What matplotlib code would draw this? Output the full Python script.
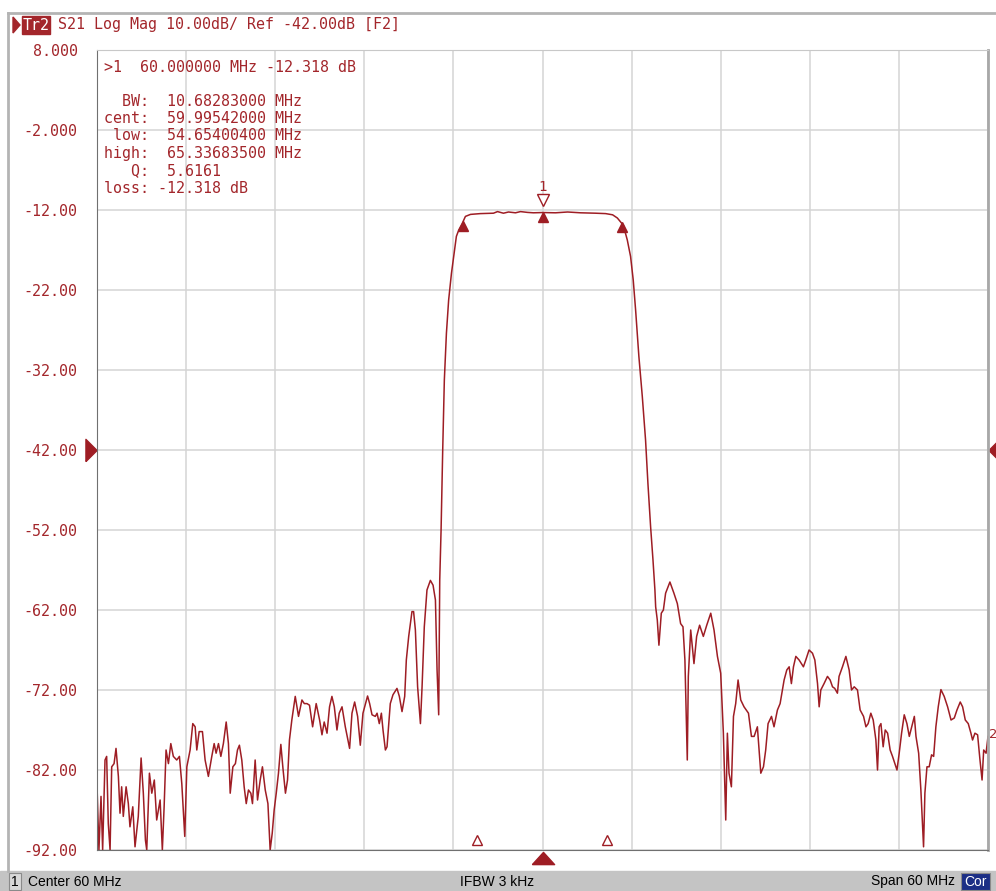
import numpy as np
import matplotlib
matplotlib.use("Agg")
import matplotlib.pyplot as plt
from matplotlib.patches import Rectangle
from matplotlib.lines import Line2D
import matplotlib.transforms as mtransforms

# S21 trace (MHz, dB)
freq = [30.00, 30.13, 30.27, 30.38, 30.54, 30.65, 30.76, 30.88, 30.99, 31.15, 31.28, 31.44, 31.55, 31.66,
        31.77, 31.96, 32.11, 32.22, 32.41, 32.56, 32.78, 32.97, 33.12, 33.26, 33.35, 33.53, 33.69, 33.86,
        34.02, 34.25, 34.40, 34.52, 34.65, 34.81, 34.97, 35.14, 35.37, 35.55, 35.71, 35.91, 36.05, 36.27,
        36.45, 36.61, 36.72, 36.88, 37.10, 37.28, 37.50, 37.73, 37.89, 38.02, 38.18, 38.34, 38.51, 38.70,
        38.85, 38.97, 39.15, 39.32, 39.46, 39.59, 39.75, 39.91, 40.05, 40.20, 40.36, 40.47, 40.65, 40.81,
        40.99, 41.14, 41.33, 41.51, 41.66, 41.80, 41.93, 42.07, 42.22, 42.38, 42.52, 42.69, 42.83, 42.96,
        43.12, 43.35, 43.57, 43.80, 43.96, 44.14, 44.31, 44.52, 44.76, 44.99, 45.15, 45.30, 45.49, 45.66,
        45.82, 45.98, 46.16, 46.31, 46.50, 46.72, 47.01, 47.17, 47.35, 47.55, 47.73, 47.91, 48.22, 48.36,
        48.52, 48.74, 48.86, 49.01, 49.15, 49.26, 49.42, 49.53, 49.75, 49.93, 50.20, 50.36, 50.54, 50.72,
        50.83, 50.99, 51.21, 51.32, 51.44, 51.59, 51.78, 51.89, 52.04, 52.22, 52.45, 52.63, 52.79, 52.90,
        53.01, 53.08, 53.17, 53.28, 53.39, 53.53, 53.68, 53.87, 54.02, 54.20, 54.36, 54.59, 54.81, 55.15,
        55.82, 56.70, 56.97, 57.37, 57.71, 58.18, 58.52, 58.99, 59.39, 60.00, 60.88, 61.69, 62.56, 63.57,
        64.25, 64.72, 65.04, 65.44, 65.71, 65.93, 66.11, 66.27, 66.49, 66.72, 66.94, 67.10, 67.28, 67.44,
        67.57, 67.62, 67.73, 67.84, 68.00, 68.14, 68.29, 68.58, 68.85, 69.08, 69.30, 69.46, 69.59, 69.75,
        69.82, 69.98, 70.20, 70.38, 70.58, 70.83, 71.06, 71.33, 71.55, 71.78, 72.00, 72.18, 72.34, 72.45,
        72.56, 72.72, 72.86, 73.01, 73.17, 73.35, 73.57, 73.87, 74.07, 74.25, 74.47, 74.70, 74.88, 75.03,
        75.19, 75.42, 75.59, 75.82, 76.00, 76.27, 76.45, 76.61, 76.76, 76.90, 77.06, 77.28, 77.57, 77.73,
        77.95, 78.18, 78.34, 78.52, 78.63, 78.74, 78.96, 79.19, 79.37, 79.53, 79.68, 79.86, 79.97, 80.20,
        80.43, 80.65, 80.81, 80.99, 81.21, 81.39, 81.62, 81.78, 81.93, 82.11, 82.27, 82.45, 82.56, 82.67,
        82.79, 82.94, 83.08, 83.24, 83.41, 83.57, 83.73, 83.87, 84.02, 84.18, 84.36, 84.54, 84.70, 84.86,
        85.04, 85.15, 85.33, 85.48, 85.66, 85.75, 85.89, 86.04, 86.20, 86.34, 86.49, 86.65, 86.83, 87.05,
        87.28, 87.51, 87.73, 87.91, 88.13, 88.29, 88.47, 88.67, 88.85, 88.96, 89.12, 89.30, 89.46, 89.60,
        89.71, 89.87, 90.00]
s21 = [-83.9, -92.0, -85.3, -92.0, -80.75, -80.3, -88.7, -92.0, -81.6, -81.2, -79.3, -82.8, -87.4, -84.1,
       -87.8, -84.1, -86.2, -89.1, -86.6, -91.6, -87.8, -80.5, -84.9, -90.75, -92.0, -82.4, -84.9, -83.25,
       -88.25, -85.75, -92.0, -86.6, -79.5, -81.2, -78.7, -80.3, -80.75, -80.3, -83.7, -90.3, -81.6, -79.5,
       -76.2, -76.6, -79.5, -77.2, -77.2, -80.75, -82.8, -80.3, -78.7, -79.9, -78.7, -80.3, -78.7, -76.0,
       -78.7, -84.9, -81.6, -81.2, -79.5, -78.9, -80.75, -84.1, -86.2, -84.5, -84.9, -86.2, -80.75, -85.75,
       -83.25, -81.6, -84.5, -86.2, -92.0, -89.9, -87.0, -84.9, -82.4, -78.8, -81.75, -84.9, -83.25, -78.25,
       -75.75, -72.8, -75.3, -73.25, -73.7, -73.7, -73.9, -76.6, -73.7, -75.75, -77.6, -76.0, -77.4, -74.1,
       -72.8, -74.1, -77.0, -74.9, -74.1, -76.6, -79.3, -74.9, -73.5, -75.3, -78.9, -74.9, -72.75, -73.7,
       -75.1, -75.3, -74.9, -76.2, -74.9, -77.0, -79.5, -79.1, -73.7, -72.6, -71.8, -72.8, -74.7, -72.8,
       -68.25, -65.3, -62.2, -62.2, -64.5, -71.6, -76.2, -71.6, -64.1, -59.5, -58.3, -58.9, -60.75, -69.5,
       -75.1, -58.25, -52.0, -42.0, -33.25, -27.4, -23.25, -19.9, -17.8, -15.3, -14.5, -13.7, -12.8, -12.55,
       -12.45, -12.4, -12.2, -12.4, -12.25, -12.35, -12.2, -12.3, -12.35, -12.318, -12.35, -12.25, -12.35, -12.4,
       -12.45, -12.6, -13.0, -13.9, -15.75, -17.8, -20.75, -24.5, -30.3, -35.3, -40.75, -46.2, -51.6, -55.75,
       -59.5, -61.6, -63.25, -66.4, -62.4, -62.0, -59.9, -58.5, -59.9, -61.2, -63.7, -64.1, -68.25, -80.75,
       -70.3, -64.5, -68.7, -65.3, -63.9, -65.3, -63.9, -62.4, -64.5, -67.8, -69.9, -77.4, -88.25, -77.4,
       -82.4, -84.1, -75.3, -73.7, -70.75, -73.25, -74.1, -74.9, -77.8, -77.8, -76.6, -82.4, -81.6, -79.5,
       -76.2, -75.3, -76.6, -74.5, -73.7, -70.75, -69.5, -69.1, -71.2, -69.1, -67.8, -68.25, -69.1, -68.25,
       -67.0, -67.4, -68.25, -71.2, -74.1, -72.0, -71.2, -70.3, -70.75, -71.6, -71.8, -72.4, -70.3, -69.1,
       -67.8, -69.5, -72.0, -71.6, -72.0, -74.5, -75.3, -76.6, -76.2, -74.9, -75.75, -78.25, -82.0, -76.6,
       -76.2, -79.1, -77.0, -77.4, -79.5, -80.3, -81.2, -82.0, -79.9, -77.4, -75.1, -76.2, -77.8, -76.6,
       -75.3, -77.8, -79.9, -84.5, -91.6, -84.9, -81.6, -81.6, -80.1, -80.3, -76.6, -74.1, -71.95, -72.8,
       -74.1, -75.75, -75.5, -74.5, -73.5, -74.1, -75.75, -76.2, -77.4, -78.25, -77.4, -77.6, -80.75, -83.25,
       -79.5, -79.9, -77.8]

yticks = [8, -2, -12, -22, -32, -42, -52, -62, -72, -82, -92]
xticks = [30, 36, 42, 48, 54, 60, 66, 72, 78, 84, 90]
ref_level = -42.0

# marker 1 bandwidth search
mk_freq = 60.0
bw_low = 54.654004
bw_high = 65.336835
mk_lines = [">1  60.000000 MHz -12.318 dB",
            "  BW:  10.68283000 MHz",
            "cent:  59.99542000 MHz",
            " low:  54.65400400 MHz",
            "high:  65.33683500 MHz",
            "   Q:  5.6161",
            "loss: -12.318 dB"]
stim_marks = [55.62, 64.31]

red = '#a3262b'
trace_c = '#9e1d24'
mono = 'DejaVu Sans Mono'
fs = 10.8

W, H = 996, 891
fig = plt.figure(figsize=(W / 100, H / 100), dpi=100)
fig.patch.set_facecolor('white')

def fx(x):
    return x / W

def fy(y):
    return 1 - y / H

ax = fig.add_axes([fx(97), fy(850), fx(988) - fx(97), fy(50) - fy(850)])
ax.set_xlim(30, 90)
ax.set_ylim(-92, 8)
ax.set_xticks(xticks)
ax.set_yticks(yticks)
ax.grid(True, color='#d4d4d4', lw=1.1)
ax.set_axisbelow(True)
ax.tick_params(length=0, labelbottom=False, pad=14)
ax.set_yticklabels([f"{v:.3f}" if abs(v) < 10 else f"{v:.2f}" for v in yticks],
                   family=mono, fontsize=fs, color=red)
ax.spines['top'].set_color('#c8c8c8')
ax.spines['left'].set_color('#707070')
ax.spines['bottom'].set_color('#707070')
ax.spines['right'].set_color('#a8a8a8')
ax.spines['right'].set_linewidth(2)

ax.plot(freq, s21, color=trace_c, lw=1.1)

# marker triangles sitting on the trace
down = mtransforms.ScaledTranslation(0, -4 / 100, fig.dpi_scale_trans)
up = mtransforms.ScaledTranslation(0, 13 / 100, fig.dpi_scale_trans)
mk_pts = [bw_low, mk_freq, bw_high]
mk_vals = np.interp(mk_pts, freq, s21)
ax.plot(mk_pts, mk_vals, ls='none', marker='^', ms=7, color=trace_c,
        transform=ax.transData + down)
m1 = np.interp(mk_freq, freq, s21)
ax.plot([mk_freq], [m1], ls='none', marker='v', ms=9, mfc='white', mec=trace_c, mew=1,
        transform=ax.transData + up)
ax.text(mk_freq, m1, "1", color=red, fontsize=10, family=mono, ha='center', va='bottom',
        transform=ax.transData + mtransforms.ScaledTranslation(0, 19 / 100, fig.dpi_scale_trans))

# marker 2 label at the end of the sweep
ax.text(freq[-1], s21[-1], "2", color=red, fontsize=9.5, ha='left', va='center',
        transform=ax.transData + mtransforms.ScaledTranslation(1 / 100, 2 / 100, fig.dpi_scale_trans),
        clip_on=False)

# stimulus markers along the bottom
ax.plot(stim_marks, [0.0125] * len(stim_marks), ls='none', marker='^', ms=7.5, mfc='white',
        mec=trace_c, mew=1, transform=ax.get_xaxis_transform(), clip_on=False)
wide_up = [(-1, -0.55), (1, -0.55), (0, 0.55), (-1, -0.55)]
ax.plot([mk_freq], [-0.01], ls='none', marker=wide_up, ms=16, color=trace_c,
        transform=ax.get_xaxis_transform(), clip_on=False)

# reference level pointers
tall_right = [(-0.5, -1), (-0.5, 1), (0.5, 0), (-0.5, -1)]
tall_left = [(0.5, -1), (0.5, 1), (-0.5, 0), (0.5, -1)]
ax.plot([-6 / 891], [ref_level], ls='none', marker=tall_right, ms=16, color=trace_c,
        transform=ax.get_yaxis_transform(), clip_on=False)
ax.plot([1 + 6 / 891], [ref_level], ls='none', marker=tall_left, ms=16, color=trace_c,
        transform=ax.get_yaxis_transform(), clip_on=False)

# marker readout
fig.text(fx(104), fy(68), mk_lines[0], family=mono, fontsize=fs, color=red, va='center')
for i, ln in enumerate(mk_lines[1:]):
    fig.text(fx(104), fy(101 + i * 17.5), ln, family=mono, fontsize=fs, color=red, va='center')

# header line and frame
fig.add_artist(Line2D([fx(8), fx(996)], [fy(13), fy(13)], color='#b4b4b4', lw=2))
fig.add_artist(Line2D([fx(8), fx(8)], [fy(13), fy(871)], color='#b4b4b4', lw=2))
fig.patches.append(plt.Polygon([[fx(13), fy(17)], [fx(13), fy(33)], [fx(20), fy(25)]],
                               closed=True, color=red, transform=fig.transFigure, figure=fig))
fig.patches.append(Rectangle((fx(22), fy(34)), fx(50) - fx(22), fy(16) - fy(34),
                             color=red, transform=fig.transFigure, figure=fig))
fig.text(fx(36), fy(25), "Tr2", family=mono, fontsize=fs, color='white', ha='center', va='center')
fig.text(fx(58), fy(25), "S21 Log Mag 10.00dB/ Ref -42.00dB [F2]", family=mono, fontsize=fs,
         color=red, va='center')

# status bar
sb = ['Liberation Sans', 'DejaVu Sans']
sfs = 10
fig.patches.append(Rectangle((0, 0), 1, fy(871), color='#c4c4c4', transform=fig.transFigure,
                             figure=fig))
fig.patches.append(Rectangle((fx(9), fy(890)), fx(21) - fx(9), fy(873) - fy(890), fc='#d8d8d8',
                             ec='#8a8a8a', lw=0.8, transform=fig.transFigure, figure=fig))
fig.text(fx(15), fy(881.5), "1", family=sb, fontsize=sfs, color='black', ha='center', va='center')
fig.text(fx(28), fy(881.5), "Center 60 MHz", family=sb, fontsize=sfs, color='black', va='center')
fig.text(fx(497), fy(881.5), "IFBW 3 kHz", family=sb, fontsize=sfs, color='black', ha='center',
         va='center')
fig.text(fx(955), fy(881.5), "Span 60 MHz", family=sb, fontsize=sfs, color='black', ha='right',
         va='center')
fig.patches.append(Rectangle((fx(961), fy(890)), fx(990) - fx(961), fy(873) - fy(890), fc='#1c2f86',
                             ec='#8a8a8a', lw=0.8, transform=fig.transFigure, figure=fig))
fig.text(fx(975.5), fy(881.5), "Cor", family=sb, fontsize=sfs, color='white', ha='center',
         va='center')

fig.savefig('out.png', dpi=100)
